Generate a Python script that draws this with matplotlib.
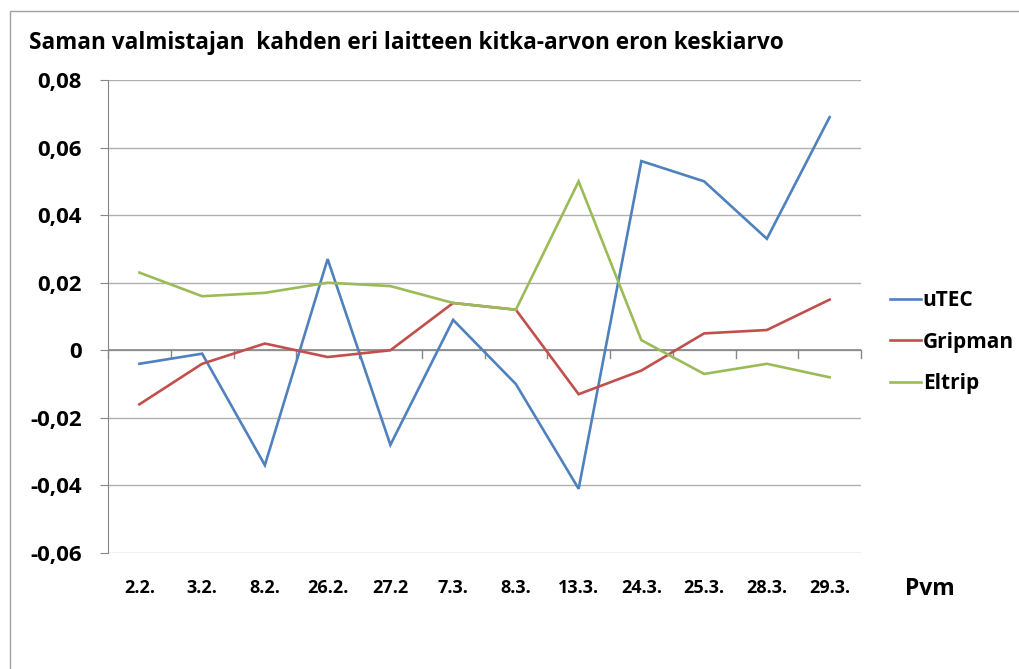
import matplotlib.pyplot as plt
from matplotlib.patches import Rectangle
from matplotlib.ticker import FuncFormatter

dates = ["2.2.", "3.2.", "8.2.", "26.2.", "27.2", "7.3.", "8.3.",
         "13.3.", "24.3.", "25.3.", "28.3.", "29.3."]
utec = [-0.004, -0.001, -0.034, 0.027, -0.028, 0.009, -0.010,
        -0.041, 0.056, 0.050, 0.033, 0.069]
gripman = [-0.016, -0.004, 0.002, -0.002, 0.000, 0.014, 0.012,
           -0.013, -0.006, 0.005, 0.006, 0.015]
eltrip = [0.023, 0.016, 0.017, 0.020, 0.019, 0.014, 0.012,
          0.050, 0.003, -0.007, -0.004, -0.008]
series_names = ["uTEC", "Gripman", "Eltrip"]
colors = ["#4F81BD", "#C0504D", "#9BBB59"]
yticks = [-0.06, -0.04, -0.02, 0, 0.02, 0.04, 0.06, 0.08]

W, H = 1019, 669
plt.rcParams["font.family"] = ["Open Sans", "DejaVu Sans"]
fig = plt.figure(figsize=(W / 100, H / 100), dpi=100)

# outer chart frame
fig.patches.append(Rectangle((10 / W, -0.05), 1.1, 1 - 11 / H + 0.05,
                             transform=fig.transFigure, fill=False,
                             edgecolor="#a0a0a0", linewidth=1))

ax = fig.add_axes([108 / W, 1 - 553 / H, (861 - 108) / W, (553 - 80) / H])
x = list(range(len(dates)))
for vals, name, c in zip([utec, gripman, eltrip], series_names, colors):
    ax.plot(x, vals, color=c, linewidth=1.9, label=name, solid_joinstyle="miter")

ax.set_xlim(-0.5, len(dates) - 0.5)
ax.set_ylim(-0.06, 0.08)
ax.set_yticks(yticks)
ax.yaxis.set_major_formatter(FuncFormatter(
    lambda v, p: "0" if abs(v) < 1e-9 else f"{v:.2f}".replace(".", ",")))
for lab in ax.get_yticklabels():
    lab.set_fontweight("bold")
    lab.set_fontsize(16)
ax.tick_params(axis="y", length=6, color="#868686", pad=13)
ax.grid(axis="y", color="#b0b0b0", linewidth=1)
ax.set_axisbelow(True)

for s in ["top", "right", "bottom"]:
    ax.spines[s].set_visible(False)
ax.spines["left"].set_color("#868686")

# horizontal axis line at zero with ticks between categories
ax.axhline(0, color="#868686", linewidth=1.2, zorder=1.5)
for b in range(len(dates) + 1):
    ax.plot([b - 0.5, b - 0.5], [0, -0.0024], color="#868686", linewidth=1,
            zorder=1.5, clip_on=False)

ax.set_xticks(x)
ax.set_xticklabels(dates, fontweight="bold", fontsize=13)
ax.tick_params(axis="x", length=0, pad=19)

fig.text(29 / W, 1 - 43 / H, "Saman valmistajan  kahden eri laitteen kitka-arvon eron keskiarvo",
         fontsize=16.3, fontweight="bold", va="center", ha="left")
fig.text(930 / W, 1 - 589 / H, "Pvm", fontsize=16.5, fontweight="bold",
         va="center", ha="center")

leg = ax.legend(loc="center left", bbox_to_anchor=(880 / W, 1 - 342 / H),
                bbox_transform=fig.transFigure, frameon=False,
                prop={"weight": "bold", "size": 15}, handlelength=1.45,
                handletextpad=0.1, labelspacing=0.98, borderpad=0)

fig.savefig("out.png", dpi=100)
